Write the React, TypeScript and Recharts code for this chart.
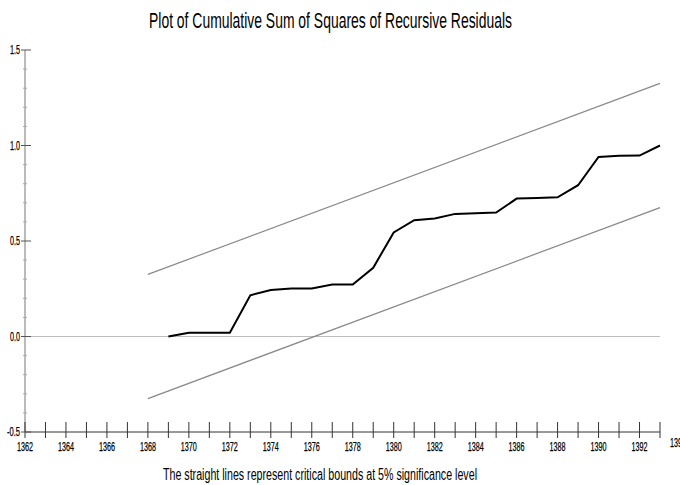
import React from 'react';
import { LineChart, Line, XAxis, YAxis, ReferenceLine } from 'recharts';

// CUSUM of squares
const years = [
  1369, 1370, 1371, 1372, 1373, 1374, 1375, 1376, 1377, 1378, 1379, 1380, 1381,
  1382, 1383, 1384, 1385, 1386, 1387, 1388, 1389, 1390, 1391, 1392, 1393,
];
const cusumsq = [
  0.0, 0.02, 0.02, 0.02, 0.216, 0.243, 0.251, 0.251, 0.272, 0.272, 0.36, 0.545, 0.609,
  0.618, 0.642, 0.645, 0.649, 0.722, 0.725, 0.729, 0.792, 0.94, 0.946, 0.947, 1.0,
];

// 5% critical bounds (straight lines, endpoints)
const boundYears = [1368, 1393];
const upperBound = [0.325, 1.325];
const lowerBound = [-0.325, 0.675];

const xTicks = [
  1362, 1363, 1364, 1365, 1366, 1367, 1368, 1369, 1370, 1371, 1372, 1373, 1374, 1375, 1376, 1377,
  1378, 1379, 1380, 1381, 1382, 1383, 1384, 1385, 1386, 1387, 1388, 1389, 1390, 1391, 1392, 1393,
];
const yTicks = [
  -0.5, -0.4, -0.3, -0.2, -0.1, 0.0, 0.1, 0.2, 0.3, 0.4, 0.5, 0.6, 0.7, 0.8, 0.9, 1.0, 1.1, 1.2,
  1.3, 1.4, 1.5,
];
const yLabels = [-0.5, 0.0, 0.5, 1.0, 1.5];

const mainData = years.map((year, i) => ({ year, value: cusumsq[i] }));
const upperData = boundYears.map((year, i) => ({ year, value: upperBound[i] }));
const lowerData = boundYears.map((year, i) => ({ year, value: lowerBound[i] }));

// narrow look: Arial-metric font squeezed with textLength
const FONT = "'Liberation Sans', Arial, sans-serif";

const XTick = (props: any) => {
  const { x, y, payload } = props;
  const v = payload.value as number;
  const last = v === 1393;
  const showLabel = v % 2 === 0 || last;
  return (
    <g>
      <line x1={x} x2={x} y1={y - 10} y2={y + 6} stroke="#333" strokeWidth={1} />
      {showLabel && (
        <text
          x={last ? x + 18 : x}
          y={last ? y + 15 : y + 19}
          textAnchor="middle"
          fontSize={12}
          fontFamily={FONT}
          textLength={16}
          lengthAdjust="spacingAndGlyphs"
          fill="#000"
          stroke="#000"
          strokeWidth={0.25}
        >
          {v}
        </text>
      )}
    </g>
  );
};

const YTick = (props: any) => {
  const { x, y, payload } = props;
  const v = payload.value as number;
  const major = yLabels.some((l) => Math.abs(l - v) < 1e-6);
  if (!major) {
    return <line x1={x - 2} x2={x + 2} y1={y} y2={y} stroke="#aaa" strokeWidth={1} />;
  }
  const label = v.toFixed(1);
  return (
    <g>
      <line x1={x - 4} x2={x + 6} y1={y} y2={y} stroke="#555" strokeWidth={1} />
      <text
        x={x - 5}
        y={y + 4}
        textAnchor="end"
        fontSize={12}
        fontFamily={FONT}
        textLength={label.length > 3 ? 13 : 10}
        lengthAdjust="spacingAndGlyphs"
        fill="#000"
        stroke="#000"
        strokeWidth={0.25}
      >
        {label}
      </text>
    </g>
  );
};

export default function App() {
  return (
    <div style={{ position: 'absolute', left: 0, top: 0, width: 680, height: 485, background: '#fff' }}>
      <LineChart width={680} height={485} margin={{ top: 50, right: 20, bottom: 0, left: 0 }}>
        <XAxis
          dataKey="year"
          type="number"
          domain={[1362, 1393]}
          ticks={xTicks}
          interval={0}
          allowDuplicatedCategory={false}
          height={53}
          tickSize={0}
          tickMargin={0}
          tickLine={false}
          tick={<XTick />}
          axisLine={{ stroke: '#333', strokeWidth: 1 }}
        />
        <YAxis
          type="number"
          domain={[-0.5, 1.5]}
          ticks={yTicks}
          interval={0}
          width={25}
          tickSize={0}
          tickMargin={0}
          tickLine={false}
          tick={<YTick />}
          axisLine={{ stroke: '#777', strokeWidth: 1 }}
        />
        <ReferenceLine y={0} stroke="#bdbdbd" strokeWidth={1} />
        <Line
          data={upperData}
          dataKey="value"
          stroke="#888"
          strokeWidth={1.2}
          dot={false}
          isAnimationActive={false}
        />
        <Line
          data={lowerData}
          dataKey="value"
          stroke="#888"
          strokeWidth={1.2}
          dot={false}
          isAnimationActive={false}
        />
        <Line
          data={mainData}
          dataKey="value"
          stroke="#000"
          strokeWidth={2}
          dot={false}
          type="linear"
          isAnimationActive={false}
        />
      </LineChart>
      <svg
        width={680}
        height={485}
        style={{ position: 'absolute', left: 0, top: 0, pointerEvents: 'none' }}
      >
        <text
          x={149}
          y={28}
          fontSize={22}
          fontFamily={FONT}
          textLength={363}
          lengthAdjust="spacingAndGlyphs"
          fill="#000"
        >
          Plot of Cumulative Sum of Squares of Recursive Residuals
        </text>
        <text
          x={163}
          y={480}
          fontSize={16}
          fontFamily={FONT}
          textLength={314}
          lengthAdjust="spacingAndGlyphs"
          fill="#000"
        >
          The straight lines represent critical bounds at 5% significance level
        </text>
      </svg>
    </div>
  );
}
